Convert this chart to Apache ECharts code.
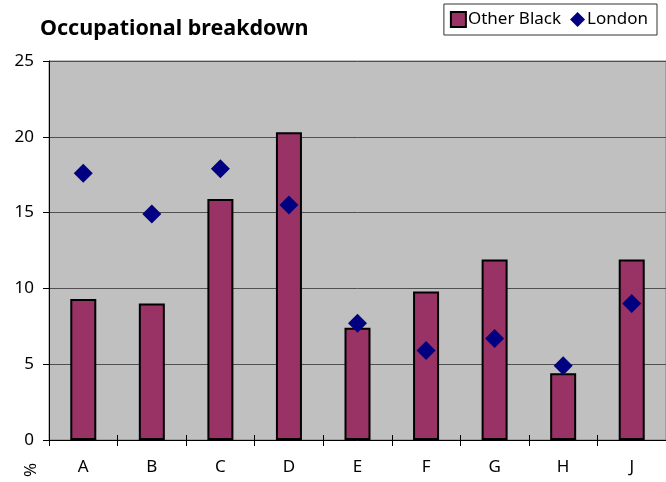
<!DOCTYPE html>
<html><head><meta charset="utf-8">
<script src="https://cdn.jsdelivr.net/npm/echarts@6/dist/echarts.min.js"></script>
<style>html,body{margin:0;padding:0;background:#fff}#c{width:666px;height:482px}</style>
</head><body><div id="c"></div>
<script>
const categories = ['A','B','C','D','E','F','G','H','J'];
const otherBlack = [9.3, 9.0, 15.9, 20.3, 7.4, 9.8, 11.9, 4.4, 11.9];
const london = [17.6, 14.9, 17.9, 15.5, 7.7, 5.9, 6.7, 4.9, 9.0];
const yTicks = [0, 5, 10, 15, 20, 25];
const FONT = 'Noto Sans';

const chart = echarts.init(document.getElementById('c'));
chart.setOption({
  animation: false,
  textStyle: {fontFamily: FONT},
  title: {text: 'Occupational breakdown', left: 35, top: 13,
    textStyle: {fontFamily: FONT, fontSize: 21.5, fontWeight: 'bold', color: '#000'}},
  legend: {
    right: 9, top: 4, padding: [7, 9, 7, 6], itemGap: 9, itemWidth: 15, itemHeight: 15,
    borderColor: '#333', borderWidth: 1, backgroundColor: '#fff',
    textStyle: {fontFamily: FONT, fontSize: 17, color: '#000', padding: [0,0,0,-3]},
    data: [{name: 'Other Black', icon: 'rect'}, {name: 'London', icon: 'diamond'}]
  },
  grid: {left: 49, right: -1, top: 61, bottom: 42, show: true,
    backgroundColor: '#c0c0c0', borderColor: '#808080', borderWidth: 1},
  xAxis: [{
    type: 'category', data: categories,
    axisLine: {lineStyle: {color: '#000', width: 1}},
    axisTick: {show: true, length: 6, lineStyle: {color: '#000'}},
    axisLabel: {fontFamily: FONT, fontSize: 17, color: '#000', margin: 19}
  }, {
    type: 'category', data: categories, position: 'bottom',
    axisLine: {show: false},
    axisTick: {show: true, inside: true, length: 5, lineStyle: {color: '#000'}},
    axisLabel: {show: false}
  }],
  yAxis: {
    type: 'value', min: yTicks[0], max: yTicks[yTicks.length-1], interval: 5,
    axisLine: {show: true, lineStyle: {color: '#000', width: 1}},
    axisTick: {show: true, length: 6, lineStyle: {color: '#000'}},
    axisLabel: {fontFamily: FONT, fontSize: 17, color: '#000', margin: 15},
    splitLine: {show: true, lineStyle: {color: '#505050', width: 1}}
  },
  graphic: [{
    type: 'text', x: 31, y: 470, rotation: Math.PI/2,
    style: {text: '%', fontFamily: FONT, fontSize: 17, fill: '#000', align: 'center', verticalAlign: 'middle'}
  }],
  series: [{
    name: 'Other Black', type: 'bar', data: otherBlack, barWidth: 26,
    itemStyle: {color: '#993366', borderColor: '#000', borderWidth: 2}
  }, {
    name: 'London', type: 'scatter', data: london, symbol: 'diamond', symbolSize: 19,
    itemStyle: {color: '#000080', opacity: 1}, z: 5
  }]
});
</script></body></html>
